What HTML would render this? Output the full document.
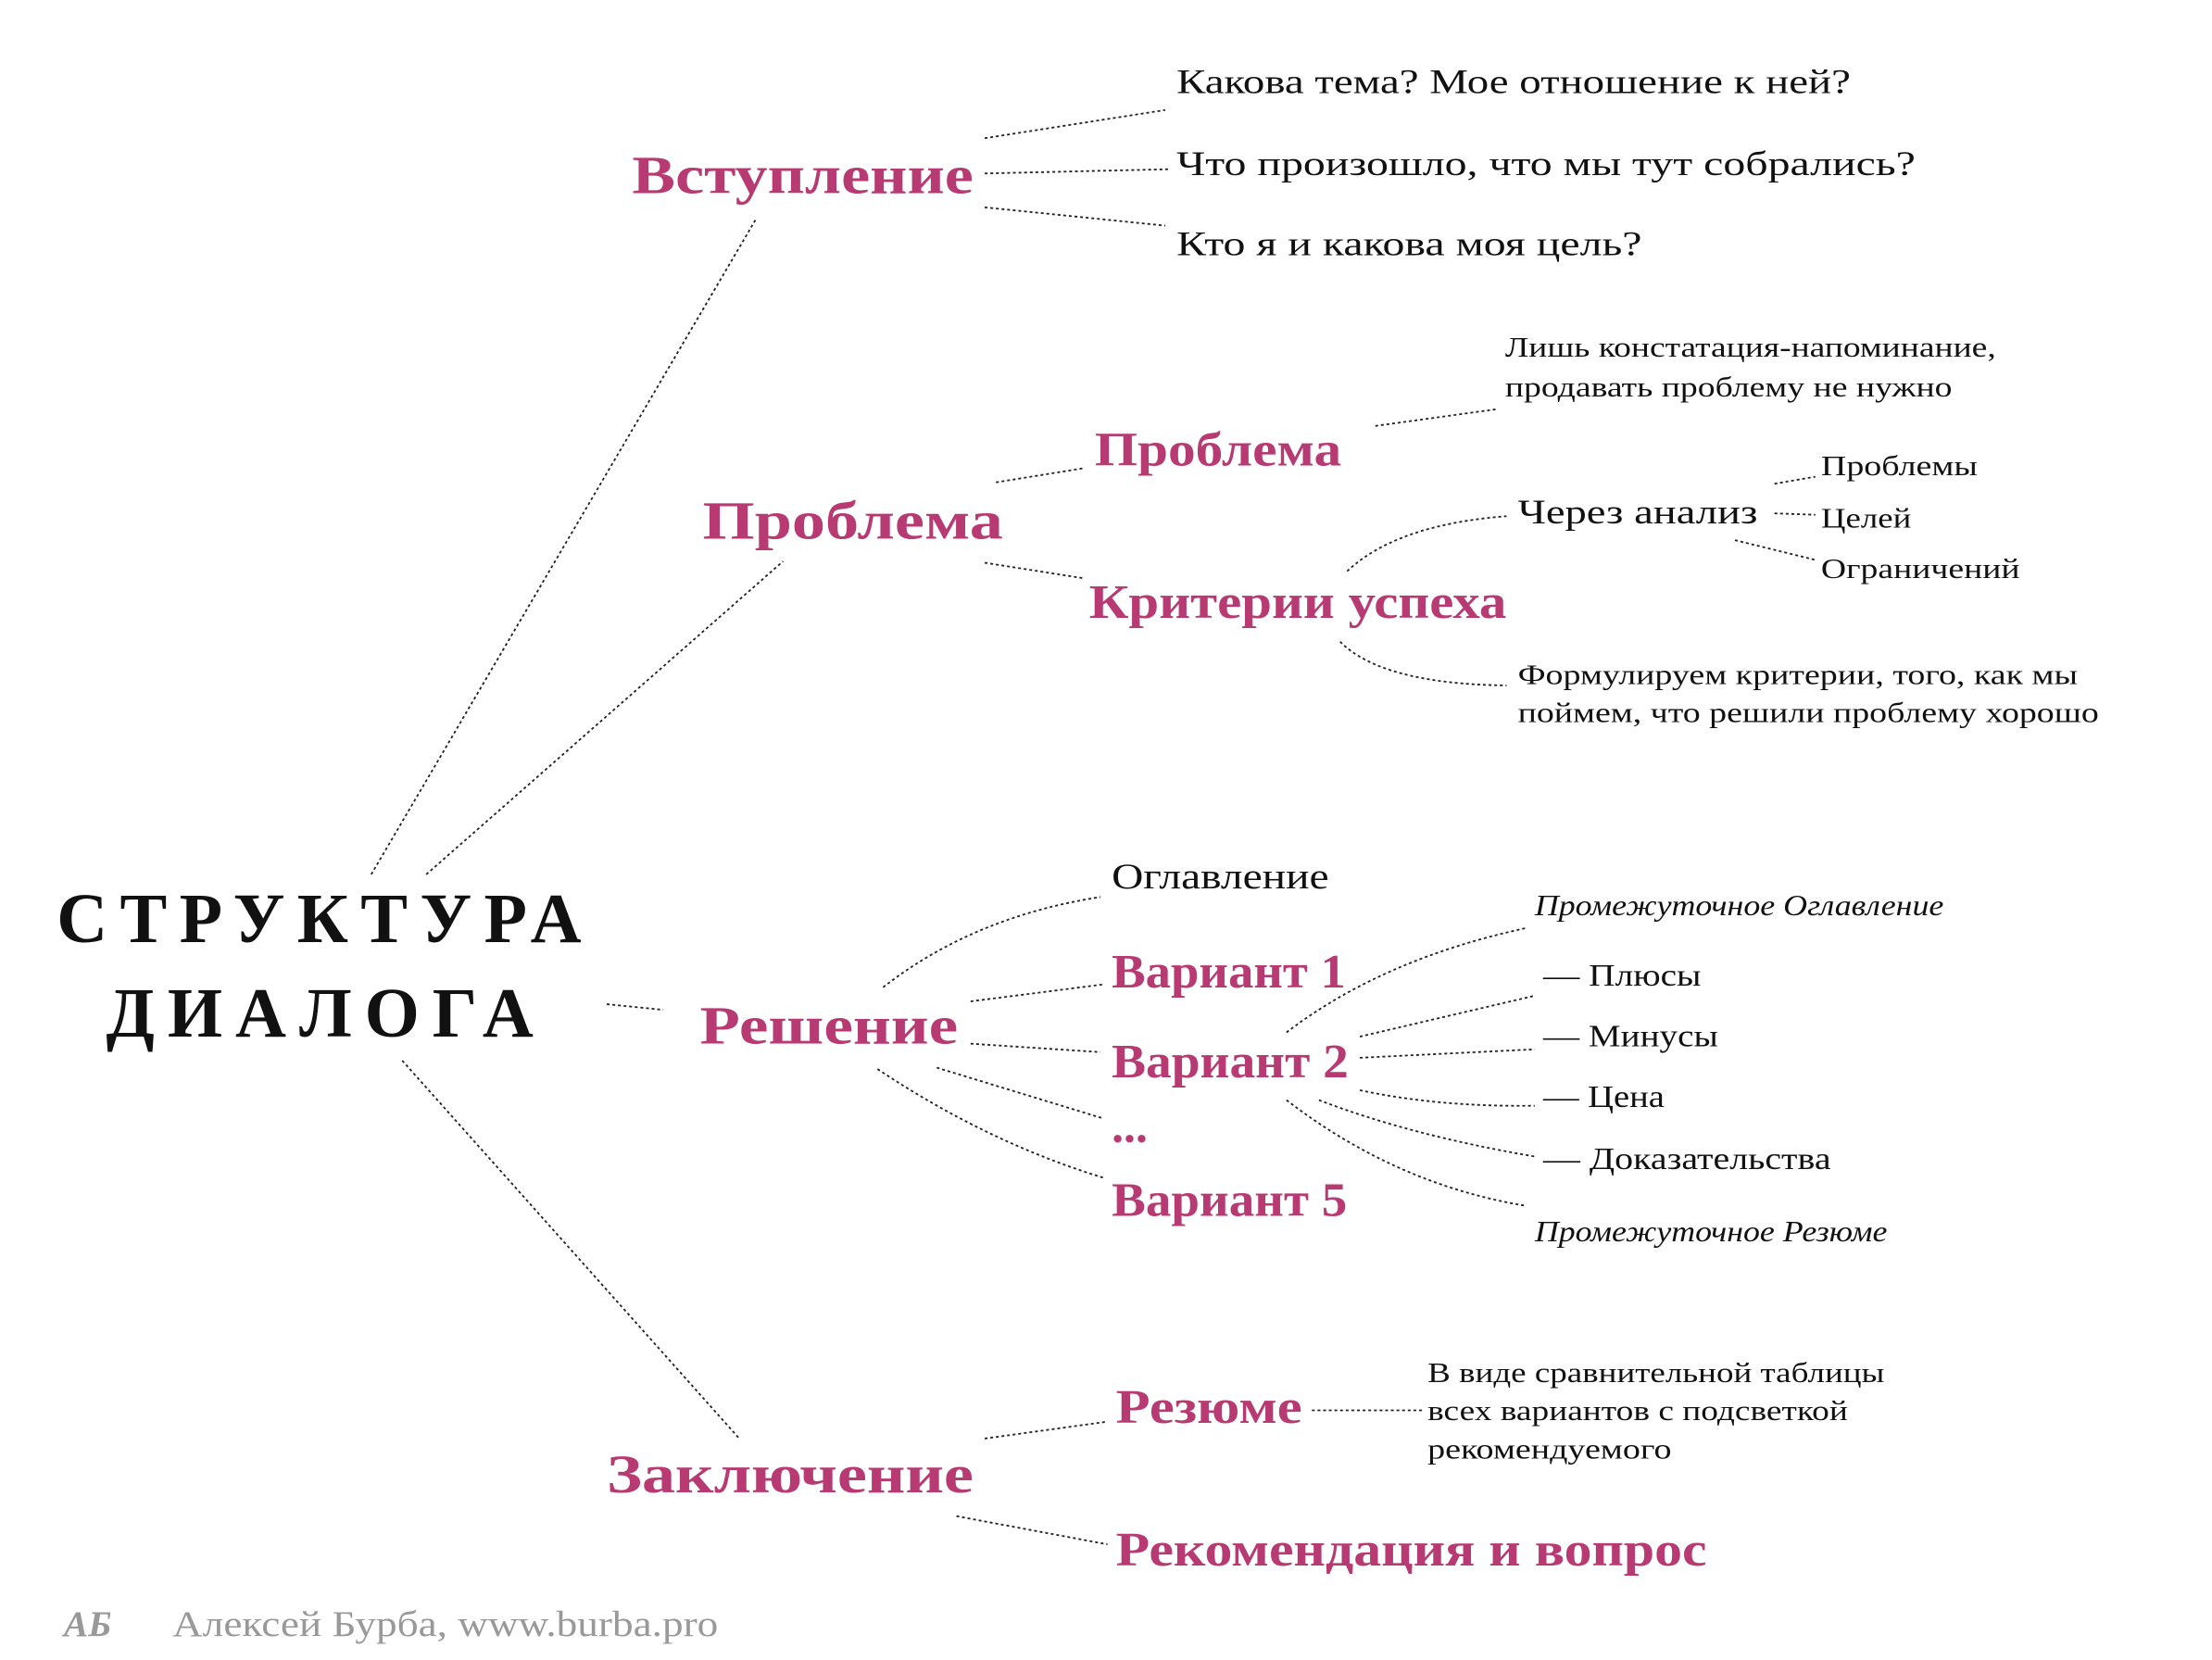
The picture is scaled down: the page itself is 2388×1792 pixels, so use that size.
<!DOCTYPE html>
<html><head><meta charset="utf-8"><style>
html,body{margin:0;padding:0;background:#fff;}
svg{display:block;}
text{font-family:"Liberation Serif","DejaVu Serif",serif;}
.p{fill:#b83a72;font-weight:bold;}
.b{fill:#111;}
</style></head><body>
<svg width="2388" height="1792" viewBox="0 0 1568 1177" xmlns="http://www.w3.org/2000/svg">
<g fill="none" stroke="#222" stroke-width="1.2" stroke-dasharray="2 2">
<path d="M263 620 L536 155"/>
<path d="M302 620 L555 398"/>
<path d="M430 712 L470 716"/>
<path d="M285 752 L524 1020"/>
<path d="M698 98 L826 78"/><path d="M698 123 L828 120"/><path d="M698 147 L826 160"/>
<path d="M706 342 L768 332"/><path d="M698 399 L768 410"/>
<path d="M975 302 L1062 290"/>
<path d="M955 405 Q990 372 1068 366"/>
<path d="M950 455 Q980 485 1068 486"/>
<path d="M1258 343 L1287 338"/><path d="M1258 364 L1287 365"/><path d="M1230 383 L1287 397"/>
<path d="M626 700 Q690 650 780 636"/>
<path d="M688 710 L782 698"/>
<path d="M688 740 L780 746"/>
<path d="M664 757 L782 793"/>
<path d="M622 758 Q700 810 782 835"/>
<path d="M912 732 Q980 680 1082 658"/>
<path d="M964 735 L1088 706"/>
<path d="M964 750 L1088 744"/>
<path d="M964 773 Q1020 785 1088 784"/>
<path d="M935 780 Q1000 805 1088 820"/>
<path d="M912 780 Q990 840 1082 855"/>
<path d="M698 1020 L785 1008"/>
<path d="M930 1000 L1008 1000"/>
<path d="M678 1075 L785 1095"/>
</g>
<text x="40" y="668" class="b" font-size="50" font-weight="bold" textLength="372" lengthAdjust="spacing">СТРУКТУРА</text>
<text x="75" y="735" class="b" font-size="50" font-weight="bold" textLength="303" lengthAdjust="spacing">ДИАЛОГА</text>

<text x="448" y="137" class="p" font-size="38" textLength="242" lengthAdjust="spacingAndGlyphs">Вступление</text>
<g class="b" font-size="24">
<text x="834" y="66" textLength="478" lengthAdjust="spacingAndGlyphs">Какова тема? Мое отношение к ней?</text>
<text x="834" y="124" textLength="524" lengthAdjust="spacingAndGlyphs">Что произошло, что мы тут собрались?</text>
<text x="834" y="181" textLength="330" lengthAdjust="spacingAndGlyphs">Кто я и какова моя цель?</text>
</g>

<text x="498" y="382" class="p" font-size="38" textLength="213" lengthAdjust="spacingAndGlyphs">Проблема</text>
<text x="776" y="330" class="p" font-size="34" textLength="175" lengthAdjust="spacingAndGlyphs">Проблема</text>
<text x="772" y="438" class="p" font-size="34" textLength="296" lengthAdjust="spacingAndGlyphs">Критерии успеха</text>
<g class="b" font-size="20">
<text x="1067" y="253" textLength="348" lengthAdjust="spacingAndGlyphs">Лишь констатация-напоминание,</text>
<text x="1067" y="281" textLength="317" lengthAdjust="spacingAndGlyphs">продавать проблему не нужно</text>
<text x="1291" y="337" textLength="111" lengthAdjust="spacingAndGlyphs">Проблемы</text>
<text x="1291" y="374" textLength="64" lengthAdjust="spacingAndGlyphs">Целей</text>
<text x="1291" y="410" textLength="141" lengthAdjust="spacingAndGlyphs">Ограничений</text>
<text x="1076" y="485" textLength="397" lengthAdjust="spacingAndGlyphs">Формулируем критерии, того, как мы</text>
<text x="1076" y="512" textLength="412" lengthAdjust="spacingAndGlyphs">поймем, что решили проблему хорошо</text>
</g>
<text x="1076" y="371" class="b" font-size="24" textLength="170" lengthAdjust="spacingAndGlyphs">Через анализ</text>

<text x="496" y="740" class="p" font-size="38" textLength="183" lengthAdjust="spacingAndGlyphs">Решение</text>
<text x="788" y="630" class="b" font-size="26" textLength="154" lengthAdjust="spacingAndGlyphs">Оглавление</text>
<g class="p" font-size="34">
<text x="788" y="700" textLength="166" lengthAdjust="spacingAndGlyphs">Вариант 1</text>
<text x="788" y="764" textLength="168" lengthAdjust="spacingAndGlyphs">Вариант 2</text>
<text x="788" y="810">...</text>
<text x="788" y="862" textLength="167" lengthAdjust="spacingAndGlyphs">Вариант 5</text>
</g>
<g class="b" font-size="21" font-style="italic">
<text x="1088" y="649" textLength="290" lengthAdjust="spacingAndGlyphs">Промежуточное Оглавление</text>
<text x="1088" y="880" textLength="250" lengthAdjust="spacingAndGlyphs">Промежуточное Резюме</text>
</g>
<g class="b" font-size="22">
<text x="1094" y="699" textLength="112" lengthAdjust="spacingAndGlyphs">— Плюсы</text>
<text x="1094" y="742" textLength="124" lengthAdjust="spacingAndGlyphs">— Минусы</text>
<text x="1094" y="785" textLength="86" lengthAdjust="spacingAndGlyphs">— Цена</text>
<text x="1094" y="829" textLength="204" lengthAdjust="spacingAndGlyphs">— Доказательства</text>
</g>

<text x="430" y="1058" class="p" font-size="38" textLength="260" lengthAdjust="spacingAndGlyphs">Заключение</text>
<text x="791" y="1009" class="p" font-size="34" textLength="132" lengthAdjust="spacingAndGlyphs">Резюме</text>
<text x="791" y="1110" class="p" font-size="34" textLength="419" lengthAdjust="spacingAndGlyphs">Рекомендация и вопрос</text>
<g class="b" font-size="20">
<text x="1012" y="980" textLength="324" lengthAdjust="spacingAndGlyphs">В виде сравнительной таблицы</text>
<text x="1012" y="1007" textLength="298" lengthAdjust="spacingAndGlyphs">всех вариантов с подсветкой</text>
<text x="1012" y="1034" textLength="173" lengthAdjust="spacingAndGlyphs">рекомендуемого</text>
</g>

<text x="45" y="1160" fill="#999" font-size="26" font-style="italic" font-weight="bold">АБ</text>
<text x="122" y="1160" fill="#999" font-size="26" textLength="387" lengthAdjust="spacingAndGlyphs">Алексей Бурба, www.burba.pro</text>
</svg>
</body></html>
